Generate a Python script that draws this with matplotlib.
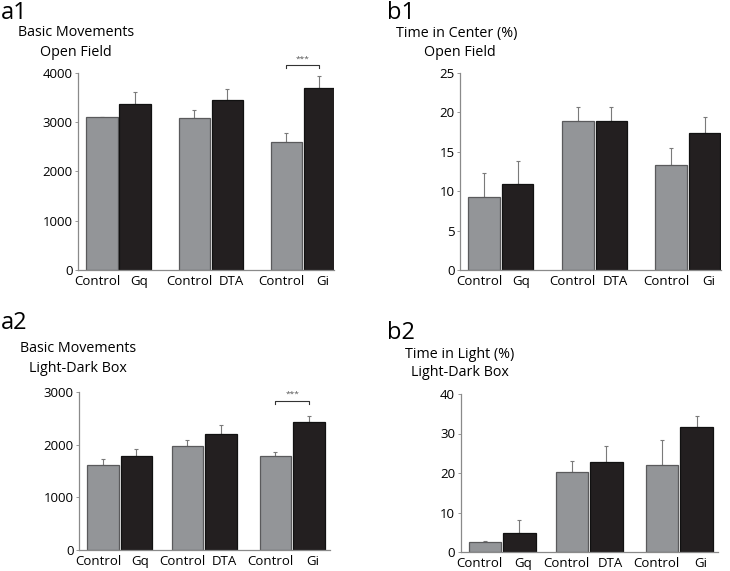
import matplotlib
matplotlib.use("Agg")
import matplotlib.pyplot as plt
import numpy as np

plt.rcParams['font.family'] = ['Open Sans', 'DejaVu Sans']

# =============================================================================
# data
# =============================================================================
labels_a = ['Control', 'Gq', 'Control', 'DTA', 'Control', 'Gi']

a1_mean = [3100, 3377, 3092, 3452, 2599, 3702]
a1_err = [15, 230, 165, 215, 185, 245]

b1_mean = [9.26, 10.87, 18.9, 18.9, 13.28, 17.42]
b1_err = [3.1, 2.95, 1.8, 1.8, 2.2, 1.95]

a2_mean = [1611, 1787, 1983, 2204, 1787, 2432]
a2_err = [126, 139, 114, 164, 76, 120]

b2_mean = [2.53, 4.89, 20.17, 22.87, 22.03, 31.65]
b2_err = [0.35, 3.3, 2.8, 3.9, 6.4, 2.85]

GRAY = '#939598'
BLACK = '#231f20'
W, H = 730, 571


def px(x0, y0, x1, y1):
    # pixel box -> figure fraction
    return [x0 / W, 1 - y1 / H, (x1 - x0) / W, (y1 - y0) / H]


def panel(ax, mean, err, groups, xlim, ylim, yticks):
    pos = []
    for g in groups:
        pos += [g, g + 1]
    pos = np.array(pos)
    cols = [GRAY, BLACK] * 3
    edges = ['#5a5a5c', '#111111'] * 3
    ax.bar(pos, mean, width=0.94, color=cols, edgecolor=edges,
           linewidth=0.9, zorder=2)
    ax.errorbar(pos, mean, yerr=[np.zeros(len(err)), err], fmt='none',
                ecolor='#7a7a7a', elinewidth=0.8, capsize=1.5,
                capthick=0.8, zorder=1)
    ax.set_xlim(xlim)
    ax.set_ylim(ylim)
    ax.set_yticks(yticks)
    # labels sit a little apart from the bar centres
    ax.set_xticks(pos + np.array([-0.15, 0.12] * 3))
    ax.set_xticklabels(labels_a, fontsize=9.5)
    ax.tick_params(axis='x', length=0, pad=3.5)
    ax.tick_params(axis='y', length=2, width=0.6, color='#888888',
                   labelsize=9.5, pad=2)
    for s in ['top', 'right']:
        ax.spines[s].set_visible(False)
    for s in ['left', 'bottom']:
        ax.spines[s].set_color('#8a8a8a')
        ax.spines[s].set_linewidth(0.9)
    return pos


def bracket(ax, x0, x1, y, drop, ystar):
    ax.plot([x0, x0, x1, x1], [y - drop, y, y, y - drop],
            color='#333333', lw=0.8, clip_on=False)
    ax.text((x0 + x1) / 2, ystar, '***', ha='center', va='center',
            fontsize=6, color='#555555')


fig = plt.figure(figsize=(7.3, 5.71), dpi=100)

ax1 = fig.add_axes(px(78, 73, 334, 270))
p = panel(ax1, a1_mean, a1_err, [0, 2.79, 5.58], (-0.727, 7.03),
          (0, 4000), [0, 1000, 2000, 3000, 4000])
bracket(ax1, p[4], p[5], 4162, 60, 4280)

ax2 = fig.add_axes(px(460, 73, 721, 270))
panel(ax2, b1_mean, b1_err, [0, 2.8, 5.58], (-0.716, 7.07),
      (0, 25), [0, 5, 10, 15, 20, 25])

ax3 = fig.add_axes(px(79, 392, 330, 550))
p = panel(ax3, a2_mean, a2_err, [0, 2.52, 5.15], (-0.716, 6.78),
          (0, 3000), [0, 1000, 2000, 3000])
bracket(ax3, p[4], p[5], 2829, 60, 2960)

ax4 = fig.add_axes(px(460.7, 394, 718, 552))
panel(ax4, b2_mean, b2_err, [0, 2.52, 5.13], (-0.70, 6.75),
      (0, 40), [0, 10, 20, 30, 40])

# titles and panel letters
def ftext(x, y, s, size, ha='center'):
    fig.text(x / W, 1 - y / H, s, fontsize=size, ha=ha, va='center')

ftext(1, 13, 'a1', 17, ha='left')
ftext(76, 33, 'Basic Movements', 10.3)
ftext(76, 52, 'Open Field', 10.3)

ftext(387, 13, 'b1', 17, ha='left')
ftext(457, 33, 'Time in Center (%)', 10.3)
ftext(460, 52, 'Open Field', 10.3)

ftext(1, 323, 'a2', 17, ha='left')
ftext(78, 349, 'Basic Movements', 10.3)
ftext(78, 369, 'Light-Dark Box', 10.3)

ftext(387, 333, 'b2', 17, ha='left')
ftext(460, 354, 'Time in Light (%)', 10.3)
ftext(460, 373, 'Light-Dark Box', 10.3)

fig.savefig('out.png', dpi=100)
